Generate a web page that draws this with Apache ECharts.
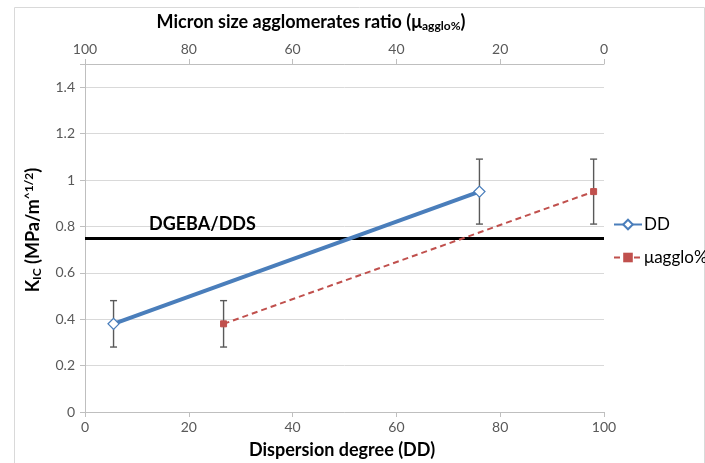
<!DOCTYPE html>
<html><head><meta charset="utf-8">
<script src="https://cdn.jsdelivr.net/npm/echarts@6/dist/echarts.min.js"></script>
<style>html,body{margin:0;padding:0;background:#fff}#c{width:705px;height:463px}</style>
</head><body><div id="c"></div>
<script>
// ---- data ----
const ddX = [5.5, 76.0];          // Dispersion degree (bottom axis)
const aggloX = [73.3, 2.0];       // Micron size agglomerates ratio (top axis, reversed)
const kicDD = [0.38, 0.95];
const kicAgglo = [0.38, 0.95];
const errDD = [0.10, 0.14];
const errAgglo = [0.10, 0.14];
const refValue = 0.75;
const refLabel = 'DGEBA/DDS';
const seriesNames = ['DD', 'μagglo%'];
const xMin = 0, xMax = 100, xStep = 20;
const yMin = 0, yMax = 1.5, yStep = 0.2, yLabelMax = 1.4;

const FONT = 'Lato, "Open Sans", sans-serif';
const LABEL_COLOR = '#595959';
const AXIS_COLOR = '#bfbfbf';

function errBars(xAxisIndex, xs, ys, es) {
  return {
    type: 'custom', xAxisIndex: xAxisIndex, yAxisIndex: 0, silent: true, z: 1,
    data: xs.map((x, i) => [x, ys[i] - es[i], ys[i] + es[i]]),
    encode: { x: 0, y: [1, 2] },
    renderItem: function (params, api) {
      const lo = api.coord([api.value(0), api.value(1)]);
      const hi = api.coord([api.value(0), api.value(2)]);
      const w = 3.5, st = { stroke: '#595959', lineWidth: 1.4 };
      return { type: 'group', children: [
        { type: 'line', shape: { x1: lo[0], y1: lo[1], x2: hi[0], y2: hi[1] }, style: st },
        { type: 'line', shape: { x1: lo[0] - w, y1: lo[1], x2: lo[0] + w, y2: lo[1] }, style: st },
        { type: 'line', shape: { x1: hi[0] - w, y1: hi[1], x2: hi[0] + w, y2: hi[1] }, style: st }
      ]};
    }
  };
}

function xAxisCfg(position, inverse) {
  return {
    type: 'value', position: position, inverse: inverse, min: xMin, max: xMax, interval: xStep,
    axisLine: { show: true, onZero: false, lineStyle: { color: AXIS_COLOR, width: 1 } },
    axisTick: { show: true, length: 5, lineStyle: { color: AXIS_COLOR } },
    axisLabel: { color: LABEL_COLOR, fontSize: 14, fontFamily: FONT, margin: 8 },
    splitLine: { show: false }
  };
}

const chart = echarts.init(document.getElementById('c'), null, { renderer: 'canvas' });
chart.setOption({
  animation: false,
  textStyle: { fontFamily: FONT },
  grid: { left: 85, right: 101, top: 64, bottom: 51, containLabel: false },
  xAxis: [xAxisCfg('bottom', false), xAxisCfg('top', true)],
  yAxis: [{
    type: 'value', min: yMin, max: yMax, interval: yStep,
    axisLine: { show: true, onZero: false, lineStyle: { color: AXIS_COLOR } },
    axisTick: { show: true, length: 5, lineStyle: { color: AXIS_COLOR } },
    axisLabel: { color: LABEL_COLOR, fontSize: 14, fontFamily: FONT, margin: 10,
      formatter: v => (v > yLabelMax + 1e-6) ? '' : String(+v.toFixed(1)) },
    splitLine: { show: true, lineStyle: { color: '#d9d9d9', width: 1 } }
  }],
  legend: {
    orient: 'vertical', left: 608, top: 211, itemWidth: 28, itemHeight: 12, itemGap: 16,
    data: seriesNames,
    textStyle: { fontSize: 17, color: '#000', fontFamily: FONT, padding: [0, 0, 0, -3] }
  },
  series: [
    {
      name: seriesNames[0], type: 'line', xAxisIndex: 0, yAxisIndex: 0, z: 3,
      data: ddX.map((x, i) => [x, kicDD[i]]),
      lineStyle: { color: '#4a7ebb', width: 4 },
      itemStyle: { color: '#fff', borderColor: '#4a7ebb', borderWidth: 1.3 },
      symbol: 'diamond', symbolSize: 11,
      markLine: {
        silent: true, symbol: 'none', z: 2,
        lineStyle: { color: '#000', width: 3, type: 'solid' },
        label: { show: true, position: 'insideStartTop', distance: [64, 5],
          formatter: refLabel, color: '#000', fontSize: 18, fontWeight: 'bold', fontFamily: FONT },
        data: [{ yAxis: refValue }]
      }
    },
    {
      name: seriesNames[1], type: 'line', xAxisIndex: 1, yAxisIndex: 0, z: 3,
      data: aggloX.map((x, i) => [x, kicAgglo[i]]),
      lineStyle: { color: '#c0504d', width: 2, type: [6, 4] },
      itemStyle: { color: '#c0504d', borderColor: '#c0504d' },
      symbol: 'rect', symbolSize: 6
    },
    errBars(0, ddX, kicDD, errDD),
    errBars(1, aggloX, kicAgglo, errAgglo)
  ],
  graphic: [
    { type: 'rect', left: 12, top: 5, shape: { width: 690, height: 456 }, style: { fill: 'none', stroke: '#d9d9d9', lineWidth: 1 }, silent: true, z: -10 },
    { type: 'text', x: 311, y: 22, style: {
        text: 'Micron size agglomerates ratio (μ{sub|agglo%})', align: 'center', verticalAlign: 'middle',
        fontSize: 18, fontWeight: 'bold', fontFamily: FONT, fill: '#000',
        rich: { sub: { fontSize: 12, fontWeight: 'bold', fontFamily: FONT, verticalAlign: 'bottom', padding: [8, 0, 0, 0] } } } },
    { type: 'text', x: 342, y: 450, style: {
        text: 'Dispersion degree (DD)', align: 'center', verticalAlign: 'middle',
        fontSize: 18, fontWeight: 'bold', fontFamily: FONT, fill: '#000' } },
    { type: 'text', x: 33, y: 230, rotation: Math.PI / 2, style: {
        text: 'K{sub|IC} (MPa/m{sup|^1/2})', align: 'center', verticalAlign: 'middle',
        fontSize: 18, fontWeight: 'bold', fontFamily: FONT, fill: '#000',
        rich: {
          sub: { fontSize: 12, fontWeight: 'bold', fontFamily: FONT, padding: [8, 0, 0, 0] },
          sup: { fontSize: 12, fontWeight: 'bold', fontFamily: FONT, padding: [0, 0, 8, 0] }
        } } }
  ]
});
</script></body></html>
